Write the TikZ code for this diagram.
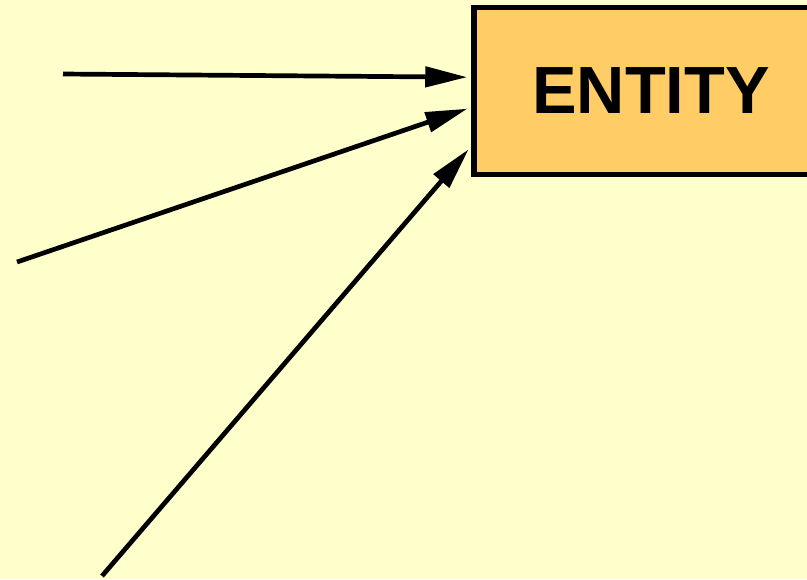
\documentclass[tikz,border=0pt]{standalone}
\usepackage{fontspec}
\setmainfont{Liberation Sans}
\usetikzlibrary{arrows.meta,calc}
\definecolor{paper}{HTML}{FFFFCC}
\definecolor{boxfill}{HTML}{FFCC66}
\tikzset{
  entbox/.style={shape=rectangle, draw, line width=0.055cm, fill=boxfill,
    minimum width=3.54cm, minimum height=1.67cm, align=center,
    font=\fontsize{19}{22}\selectfont\bfseries},
  link/.style={line width=0.047cm, -{Triangle[length=0.42cm,width=0.2cm]}, shorten >=0.04cm}
}
\begin{document}
\begin{tikzpicture}
	\useasboundingbox (0,0) rectangle (8.07,-5.79);
	\fill[paper] (0,0) rectangle (8.07,-5.79);
	\clip (0,0) rectangle (8.07,-5.79);

	\node (ent)[entbox] at (6.51,-0.91) {ENTITY};

	\coordinate (s1) at (0.63,-0.74);
	\coordinate (s2) at (0.17,-2.62);
	\coordinate (s3) at (1.02,-5.76);

	\coordinate (t1) at ($(ent.north west)!0.42!(ent.south west)$);
	\coordinate (t2) at ($(ent.north west)!0.595!(ent.south west)$);
	\coordinate (t3) at ($(ent.north west)!0.82!(ent.south west)$);

	\path[link] (s1) edge (t1);
	\path[link] (s2) edge (t2);
	\path[link] (s3) edge (t3);
\end{tikzpicture}
\end{document}
